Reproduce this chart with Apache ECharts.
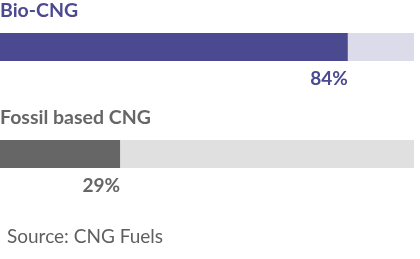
<!DOCTYPE html>
<html><head><meta charset="utf-8">
<script src="https://cdn.jsdelivr.net/npm/echarts@6/dist/echarts.min.js"></script>
<style>html,body{margin:0;padding:0;background:#fff}#c{width:420px;height:259px}</style>
</head><body><div id="c"></div>
<script>
const categories = ['Bio-CNG', 'Fossil based CNG'];
const values = [84, 29];
const labels = ['84%', '29%'];
const source = 'Source: CNG Fuels';

const fg = ['#4b4a91', '#666666'];
const bg = ['#dcdbea', '#e0e0e0'];
const tops = [33, 140];
const FONT = 'Lato';

const chart = echarts.init(document.getElementById('c'), null, {renderer: 'canvas'});
const grid = [], xAxis = [], yAxis = [], series = [], title = [];
categories.forEach((c, i) => {
  grid.push({left: 0, right: 6, top: tops[i], height: 28});
  xAxis.push({gridIndex: i, type: 'value', min: 0, max: 100, show: false});
  yAxis.push({gridIndex: i, type: 'category', data: [c], show: false});
  series.push({
    type: 'bar', xAxisIndex: i, yAxisIndex: i, data: [values[i]],
    barWidth: 28, silent: true,
    itemStyle: {color: fg[i]},
    showBackground: true, backgroundStyle: {color: bg[i]},
    label: {show: true, position: ['100%', 36], align: 'right', verticalAlign: 'top',
      formatter: () => labels[i], color: fg[i], fontFamily: FONT, fontWeight: 'bold', fontSize: 19}
  });
  title.push({text: c, left: 0, top: tops[i] - 32, padding: 0,
    textStyle: {color: fg[i], fontFamily: FONT, fontWeight: 'bold', fontSize: 19.5}});
});
title.push({text: source, left: 7, top: 227, padding: 0,
  textStyle: {color: '#5f5f5f', fontFamily: FONT, fontWeight: 'normal', fontSize: 19}});

chart.setOption({animation: false, title, grid, xAxis, yAxis, series});
</script></body></html>
